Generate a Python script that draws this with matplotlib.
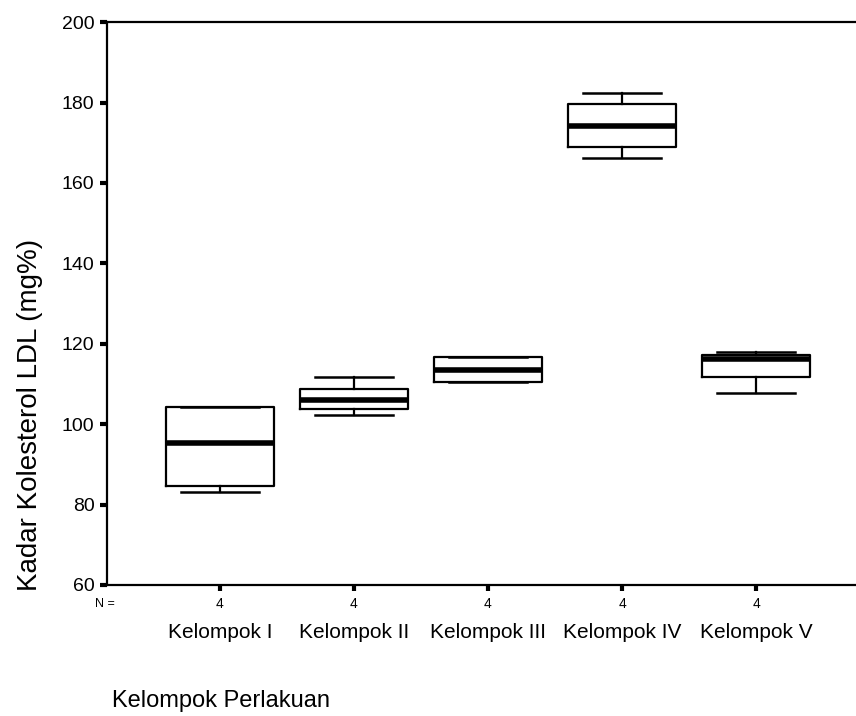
import matplotlib
matplotlib.use("Agg")
import matplotlib.pyplot as plt
import matplotlib.transforms as mtransforms

# LDL cholesterol per treatment group (mg%), five-number summaries
groups = ["Kelompok I", "Kelompok II", "Kelompok III", "Kelompok IV", "Kelompok V"]
n_per_group = [4, 4, 4, 4, 4]
whisker_low = [83.2, 102.3, 110.4, 166.2, 107.7]
q1 = [84.6, 103.7, 110.4, 168.9, 111.8]
median = [95.2, 106.0, 113.5, 174.2, 116.3]
q3 = [104.3, 108.7, 116.8, 179.6, 117.2]
whisker_high = [104.3, 111.8, 116.8, 182.4, 118.0]

y_ticks = [60, 80, 100, 120, 140, 160, 180, 200]


def make_plot(out_path="out.png"):
    plt.rcParams["font.family"] = ["Liberation Sans", "DejaVu Sans"]

    fig = plt.figure(figsize=(8.56, 7.16), dpi=100)
    ax = fig.add_axes([0.125, 0.183, 0.875, 0.786])

    stats = []
    for i, name in enumerate(groups):
        stats.append({
            "label": name,
            "whislo": whisker_low[i],
            "q1": q1[i],
            "med": median[i],
            "q3": q3[i],
            "whishi": whisker_high[i],
            "fliers": [],
        })

    positions = list(range(1, len(groups) + 1))
    ax.bxp(
        stats,
        positions=positions,
        widths=0.8,
        capwidths=0.58,
        showfliers=False,
        boxprops=dict(color="black", linewidth=1.6),
        whiskerprops=dict(color="black", linewidth=1.6),
        capprops=dict(color="black", linewidth=1.8),
        medianprops=dict(color="black", linewidth=4.0, solid_capstyle="butt"),
    )

    ax.set_xlim(0.157, 5.746)
    ax.set_ylim(60, 200)

    # axis frame: left, top and bottom only
    ax.spines["right"].set_visible(False)
    for side in ("left", "top", "bottom"):
        ax.spines[side].set_linewidth(1.6)

    ax.set_yticks(y_ticks)
    ax.tick_params(axis="y", direction="out", length=5, width=3, pad=4, labelsize=14)
    ax.set_xticks(positions)
    ax.set_xticklabels([])
    ax.tick_params(axis="x", direction="out", length=4, width=3)

    # counts and group names under the axis
    trans = mtransforms.blended_transform_factory(ax.transData, fig.transFigure)
    for pos, n, name in zip(positions, n_per_group, groups):
        ax.text(pos, 1 - 604 / 716, str(n), transform=trans, ha="center", va="center",
                fontsize=10, clip_on=False)
        ax.text(pos, 1 - 638 / 716, name, transform=trans, ha="center", va="baseline",
                fontsize=15, clip_on=False)
    fig.text(105 / 856, 1 - 604 / 716, "N =", ha="center", va="center", fontsize=9)

    fig.text(30 / 856, 1 - 415 / 716, "Kadar Kolesterol LDL (mg%)", rotation=90,
             ha="center", va="center", fontsize=20)
    fig.text(112 / 856, 1 - 707 / 716, "Kelompok Perlakuan", ha="left", va="baseline",
             fontsize=17)

    fig.savefig(out_path, dpi=100)
    plt.close(fig)


if __name__ == "__main__":
    make_plot()
